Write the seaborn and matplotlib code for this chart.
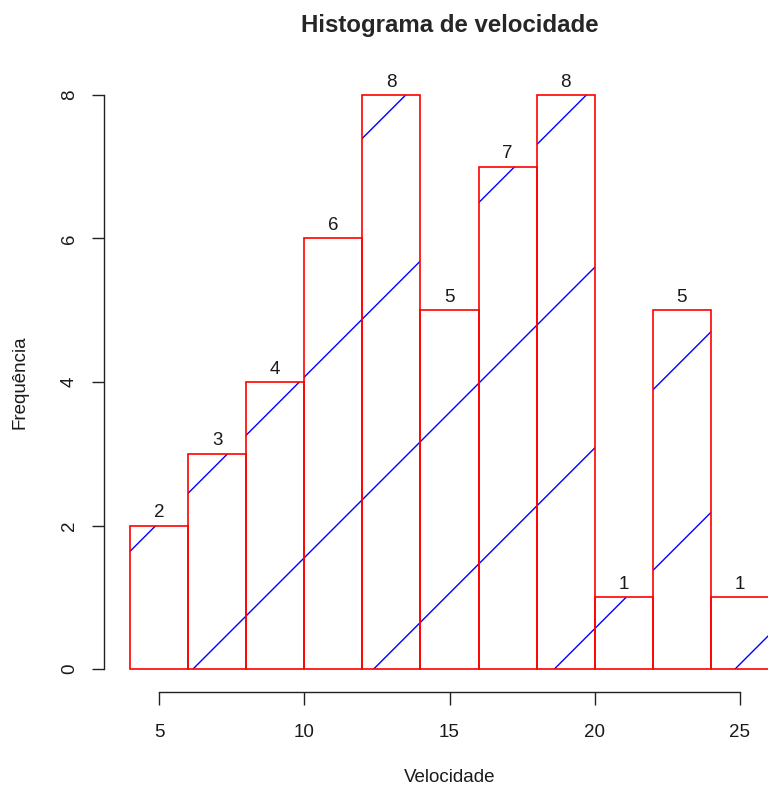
import numpy as np
import matplotlib
matplotlib.use("Agg")
import matplotlib.pyplot as plt
import seaborn as sns

# Speed classes (bin edges) and the number of cars in each class
bin_edges = [4, 6, 8, 10, 12, 14, 16, 18, 20, 22, 24, 26]
counts = [2, 3, 4, 6, 8, 5, 7, 8, 1, 5, 1]
x_ticks = [5, 10, 15, 20, 25]
y_ticks = [0, 2, 4, 6, 8]

title = "Histograma de velocidade"
x_label = "Velocidade"
y_label = "Frequência"

centers = [(a + b) / 2 for a, b in zip(bin_edges[:-1], bin_edges[1:])]

sns.set_style("white")
plt.rcParams["font.family"] = ["Liberation Sans", "DejaVu Sans"]

W, H, DPI = 768, 788, 100
fig = plt.figure(figsize=(W / DPI, H / DPI), dpi=DPI)
# plot region (axes extend slightly past the right edge of the canvas)
left_px, right_px, top_px, bottom_px = 104.4, 794.6, 72.0, 692.0
ax = fig.add_axes([left_px / W, (H - bottom_px) / H,
                   (right_px - left_px) / W, (bottom_px - top_px) / H])

sns.histplot(x=centers, weights=counts, bins=bin_edges, fill=False,
             color="#FF0000", linewidth=1.2, ax=ax, zorder=3)

xmin, xmax = bin_edges[0], bin_edges[-1]
ymax = max(counts)
ax.set_xlim(xmin - 0.04 * (xmax - xmin), xmax + 0.04 * (xmax - xmin))
ax.set_ylim(-0.04 * ymax, ymax * 1.04)

# 45-degree shading lines, clipped to every bar
fig.canvas.draw()
p0 = ax.transData.transform((0, 0))
p1 = ax.transData.transform((1, 1))
slope = (p1[0] - p0[0]) / (p1[1] - p0[1])  # data-y per data-x for 45 deg on screen
spacing, offset = 6.22, 6.17
xs = np.array([xmin - 20, xmax + 20])
for patch in list(ax.patches):
    patch.set_zorder(3)
    for k in range(-6, 6):
        x0 = offset + k * spacing
        ln, = ax.plot(xs, slope * (xs - x0), color="#0000FF", lw=1.0, zorder=2)
        ln.set_clip_path(patch)

# count labels above bars
for c, n in zip(centers, counts):
    ax.text(c, n + 0.06, str(n), ha="center", va="bottom", fontsize=13.5,
            color="#1a1a1a")

# R-style axes
sns.despine(ax=ax, top=True, right=True)
ax.spines["left"].set_bounds(y_ticks[0], y_ticks[-1])
ax.spines["bottom"].set_bounds(x_ticks[0], x_ticks[-1])
for s in ("left", "bottom"):
    ax.spines[s].set_color("#222222")
    ax.spines[s].set_linewidth(1.0)
ax.set_xticks(x_ticks)
ax.set_yticks(y_ticks)
ax.tick_params(axis="both", direction="out", length=9, width=1.0,
               color="#222222", labelsize=13.5, labelcolor="#1a1a1a",
               bottom=True, left=True)
ax.tick_params(axis="x", pad=14)
ax.tick_params(axis="y", pad=10, labelrotation=90)
for lab in ax.get_yticklabels():
    lab.set_verticalalignment("center")

ax.set_xlabel(x_label, fontsize=13.5, color="#1a1a1a")
ax.set_ylabel(y_label, fontsize=13.5, color="#1a1a1a")
ax.xaxis.set_label_coords((449.5 - left_px) / (right_px - left_px),
                          (bottom_px - 777) / (bottom_px - top_px))
ax.xaxis.label.set_verticalalignment("center")
ax.yaxis.set_label_coords((20 - left_px) / (right_px - left_px), 0.5)
ax.yaxis.label.set_verticalalignment("center")
ax.set_title(title, fontsize=17.3, fontweight="bold", pad=29)

fig.savefig("out.png", dpi=DPI)
